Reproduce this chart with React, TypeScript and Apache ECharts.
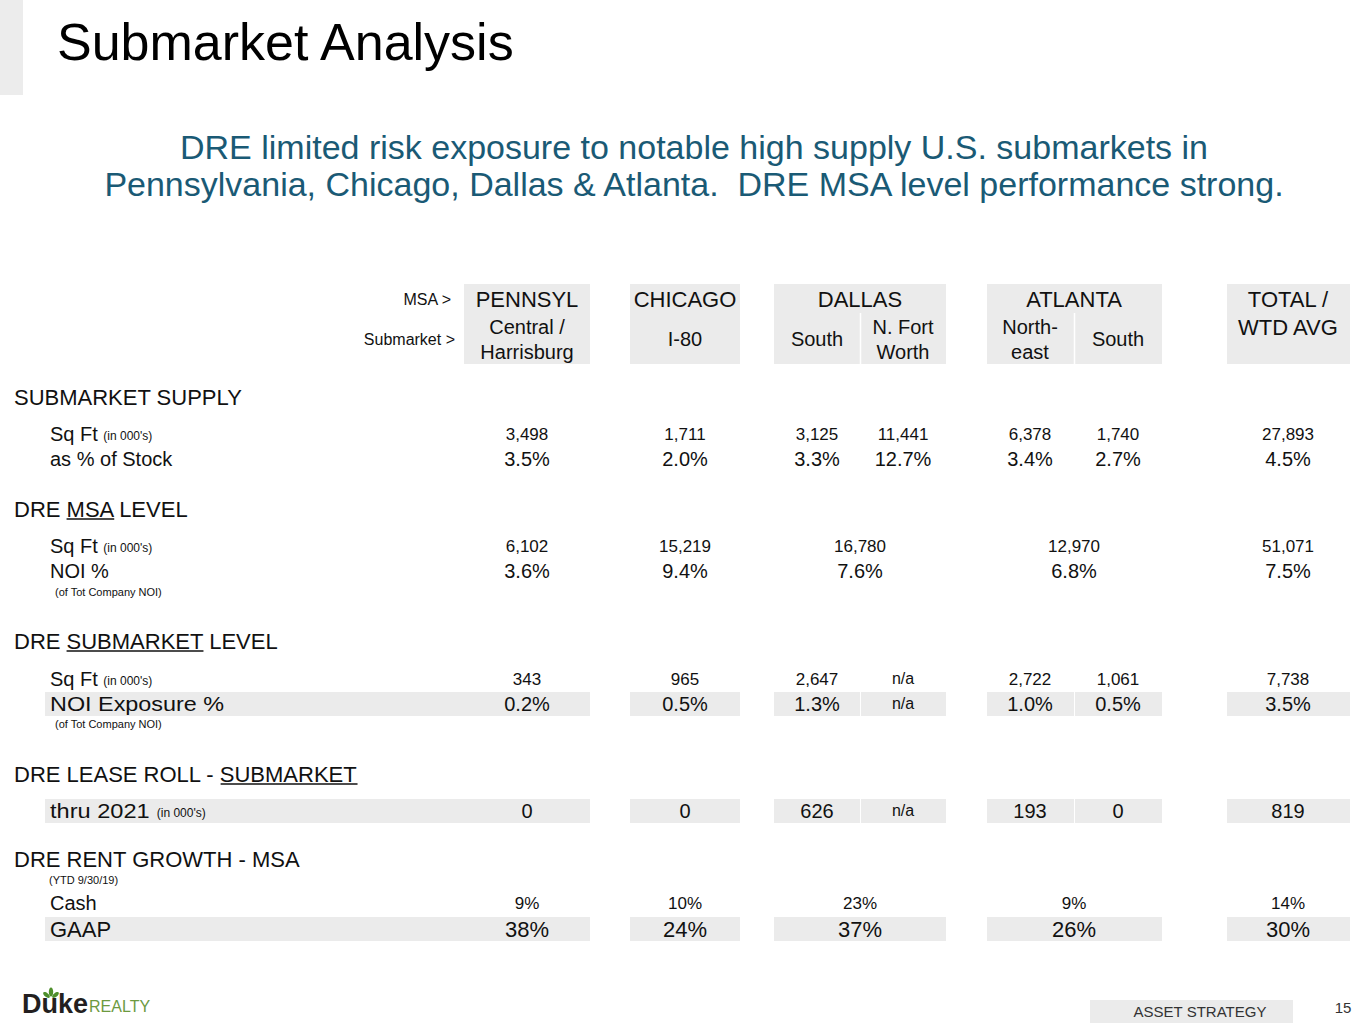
import React, { useEffect, useRef } from 'react';
import * as echarts from 'echarts';

// ---------- DATA ----------
const msaNames = ['PENNSYL', 'CHICAGO', 'DALLAS', 'ATLANTA', 'TOTAL /'];
const submarketLines: string[][] = [
  ['Central /', 'Harrisburg'],
  ['I-80'],
  ['South'],
  ['N. Fort', 'Worth'],
  ['North-', 'east'],
  ['South'],
  ['WTD AVG'],
];
const supplySqFt = [3498, 1711, 3125, 11441, 6378, 1740, 27893];
const supplyPctStock = [3.5, 2.0, 3.3, 12.7, 3.4, 2.7, 4.5];
const msaSqFt = [6102, 15219, 16780, 12970, 51071];
const msaNoiPct = [3.6, 9.4, 7.6, 6.8, 7.5];
const subSqFt: (number | null)[] = [343, 965, 2647, null, 2722, 1061, 7738];
const subNoiExposurePct: (number | null)[] = [0.2, 0.5, 1.3, null, 1.0, 0.5, 3.5];
const leaseRoll2021: (number | null)[] = [0, 0, 626, null, 193, 0, 819];
const rentGrowthCash = [9, 10, 23, 9, 14];
const rentGrowthGaap = [38, 24, 37, 26, 30];

// ---------- LAYOUT ----------
const FONT = '"Liberation Sans", Arial, Helvetica, sans-serif';
const TXT = '#111111';
const GRAY = '#ebebeb';
const subX = [527, 685, 817, 903, 1030, 1118, 1288];
const msaX = [527, 685, 860, 1074, 1288];
const subBox = [[464, 590], [630, 740], [774, 860], [861, 946], [987, 1074], [1075, 1162], [1227, 1350]];
const msaBox = [[464, 590], [630, 740], [774, 946], [987, 1162], [1227, 1350]];

let measureCtx: CanvasRenderingContext2D | null = null;
function measure(text: string, size: number, weight = 'normal') {
  if (!measureCtx) measureCtx = document.createElement('canvas').getContext('2d');
  if (!measureCtx) return text.length * size * 0.5;
  measureCtx.font = `${weight} ${size}px ${FONT}`;
  return measureCtx.measureText(text).width;
}

function txt(x: number, y: number, text: string, size: number, align = 'left', extra: any = {}) {
  const { fill, fontWeight, scaleX, fontFamily } = extra;
  return {
    type: 'text',
    x,
    y,
    scaleX: scaleX || 1,
    silent: true,
    style: {
      x: 0,
      y: 0,
      text,
      fontSize: size,
      fontFamily: fontFamily || FONT,
      fontWeight: fontWeight || 'normal',
      fill: fill || TXT,
      textAlign: align,
      align,
      textVerticalAlign: 'middle',
      verticalAlign: 'middle',
    },
  };
}

function rect(x: number, y: number, w: number, h: number, fill = GRAY) {
  return { type: 'rect', silent: true, shape: { x, y, width: w, height: h }, style: { fill } };
}

function hline(x1: number, x2: number, y: number, w = 1.5, stroke = TXT) {
  return { type: 'line', silent: true, shape: { x1, y1: y, x2, y2: y }, style: { stroke, lineWidth: w } };
}

const fmtInt = (v: number | null) => (v === null ? 'n/a' : v.toLocaleString('en-US'));
const fmtPct1 = (v: number | null) => (v === null ? 'n/a' : v.toFixed(1) + '%');
const fmtPct0 = (v: number | null) => (v === null ? 'n/a' : v + '%');

function buildGraphics() {
  const g: any[] = [];
  // background decorations
  g.push(rect(0, 0, 23, 95, '#ececec'));
  g.push(txt(57, 42, 'Submarket Analysis', 52, 'left', { fill: '#000' }));
  const SUB = '#1a5a75';
  g.push(txt(694, 147, 'DRE limited risk exposure to notable high supply U.S. submarkets in', 34, 'center', { fill: SUB }));
  g.push(txt(694, 184, 'Pennsylvania, Chicago, Dallas & Atlanta.  DRE MSA level performance strong.', 34, 'center', { fill: SUB }));

  // header boxes
  msaBox.forEach(([a, b]) => g.push(rect(a, 284, b - a, 80)));
  g.push({ type: 'line', silent: true, shape: { x1: 860.5, y1: 313, x2: 860.5, y2: 364 }, style: { stroke: '#fff', lineWidth: 1.5 } });
  g.push({ type: 'line', silent: true, shape: { x1: 1074.5, y1: 313, x2: 1074.5, y2: 364 }, style: { stroke: '#fff', lineWidth: 1.5 } });

  g.push(txt(451, 299, 'MSA >', 16, 'right'));
  g.push(txt(455, 339, 'Submarket >', 16, 'right'));
  msaNames.forEach((n, i) => g.push(txt(msaX[i], 299, n, 22, 'center')));
  submarketLines.forEach((lines, i) => {
    if (i === 6) {
      g.push(txt(subX[i], 327, lines[0], 22, 'center'));
    } else if (lines.length === 2) {
      g.push(txt(subX[i], 327, lines[0], 20, 'center'));
      g.push(txt(subX[i], 352, lines[1], 20, 'center'));
    } else {
      g.push(txt(subX[i], 339, lines[0], 20, 'center'));
    }
  });

  // section headings
  const HS = 22;
  const heading = (y: number, pre: string, word: string, post: string) => {
    g.push(txt(14, y, pre + word + post, HS, 'left'));
    if (word) {
      const x1 = 14 + measure(pre, HS);
      const x2 = x1 + measure(word, HS);
      g.push(hline(x1, x2, y + 10, 1.5));
    }
  };
  heading(397, 'SUBMARKET SUPPLY', '', '');
  heading(509, 'DRE ', 'MSA', ' LEVEL');
  heading(641, 'DRE ', 'SUBMARKET', ' LEVEL');
  heading(774, 'DRE LEASE ROLL - ', 'SUBMARKET', '');
  heading(859, 'DRE RENT GROWTH - MSA', '', '');

  // gray bands under highlighted rows
  const bandRow = (yc: number, boxes: number[][]) => {
    boxes.forEach(([a, b], i) => {
      const x0 = i === 0 ? 45 : a;
      g.push(rect(x0, yc - 12, b - x0, 24));
    });
  };
  bandRow(704, subBox);
  bandRow(811, subBox);
  bandRow(929, msaBox);

  // row labels
  const sqft = (y: number) => {
    g.push(txt(50, y, 'Sq Ft', 20, 'left'));
    g.push(txt(50 + measure('Sq Ft ', 20), y + 2, "(in 000's)", 12, 'left'));
  };
  sqft(434);
  g.push(txt(50, 459, 'as % of Stock', 20, 'left'));
  sqft(546);
  g.push(txt(50, 571, 'NOI %', 20, 'left'));
  g.push(txt(55, 592, '(of Tot Company NOI)', 11, 'left'));
  sqft(679);
  g.push(txt(50, 704, 'NOI Exposure %', 20, 'left', { scaleX: 1.17 }));
  g.push(txt(55, 724, '(of Tot Company NOI)', 11, 'left'));
  g.push(txt(50, 811, 'thru 2021', 20, 'left', { scaleX: 1.18 }));
  g.push(txt(50 + measure('thru 2021', 20) * 1.18 + 7, 813, "(in 000's)", 12, 'left'));
  g.push(txt(49, 880, '(YTD 9/30/19)', 11, 'left'));
  g.push(txt(50, 903, 'Cash', 20, 'left'));
  g.push(txt(50, 929, 'GAAP', 22, 'left'));

  // values
  const valueRow = (y: number, vals: (number | null)[], xs: number[], fmt: (v: number | null) => string, size: number) => {
    vals.forEach((v, i) => {
      if (v === null) g.push(txt(xs[i], y - 1, 'n/a', 16, 'center'));
      else g.push(txt(xs[i], y, fmt(v), size, 'center'));
    });
  };
  valueRow(434, supplySqFt, subX, fmtInt, 17);
  valueRow(459, supplyPctStock, subX, fmtPct1, 20);
  valueRow(546, msaSqFt, msaX, fmtInt, 17);
  valueRow(571, msaNoiPct, msaX, fmtPct1, 20);
  valueRow(679, subSqFt, subX, fmtInt, 17);
  valueRow(704, subNoiExposurePct, subX, fmtPct1, 20);
  valueRow(811, leaseRoll2021, subX, fmtInt, 20);
  valueRow(903, rentGrowthCash, msaX, fmtPct0, 17);
  valueRow(929, rentGrowthGaap, msaX, fmtPct0, 22);

  // footer logo
  g.push(txt(22, 1004, 'Duke', 27, 'left', { fill: '#231f20', fontWeight: 'bold' }));
  const dukeW = measure('Duke', 27, 'bold');
  g.push(txt(22 + dukeW + 1, 1006, 'REALTY', 16, 'left', { fill: '#6d9a3f' }));
  const LEAF = '#4f8f2c';
  g.push({ type: 'ellipse', silent: true, x: 51, y: 992, shape: { cx: 0, cy: 0, rx: 2.2, ry: 4.5 }, style: { fill: LEAF } });
  g.push({ type: 'ellipse', silent: true, x: 46.5, y: 995, rotation: 0.9, shape: { cx: 0, cy: 0, rx: 2, ry: 4 }, style: { fill: LEAF } });
  g.push({ type: 'ellipse', silent: true, x: 55.5, y: 995, rotation: -0.9, shape: { cx: 0, cy: 0, rx: 2, ry: 4 }, style: { fill: LEAF } });

  // footer right
  g.push(rect(1090, 1000, 203, 23, '#ebebeb'));
  g.push(txt(1200, 1011, 'ASSET STRATEGY', 15, 'center', { fill: '#333' }));
  g.push(txt(1343, 1007, '15', 15, 'center', { fill: '#333' }));
  return g;
}

export default function App() {
  const ref = useRef<HTMLDivElement>(null);
  useEffect(() => {
    document.body.style.margin = '0';
    if (!ref.current) return;
    const chart = echarts.init(ref.current, undefined, { renderer: 'svg' });
    chart.setOption({
      animation: false,
      backgroundColor: '#ffffff',
      graphic: { elements: buildGraphics() },
    });
    return () => chart.dispose();
  }, []);
  return <div ref={ref} style={{ width: 1365, height: 1024 }} />;
}
